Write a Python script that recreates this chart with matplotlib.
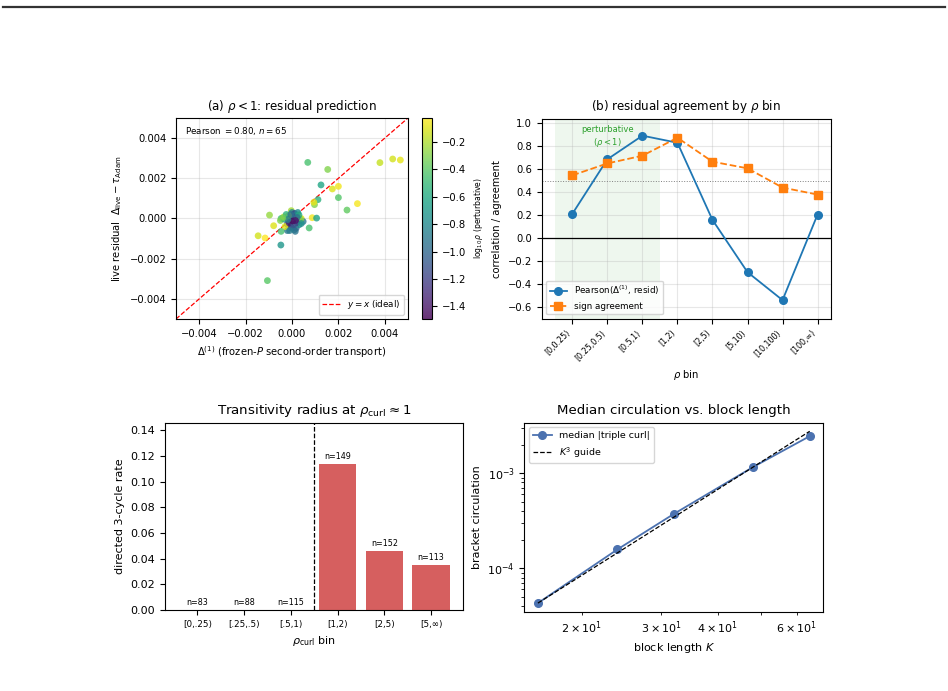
import numpy as np
import matplotlib
matplotlib.use('Agg')
import matplotlib.pyplot as plt
from matplotlib.lines import Line2D

### data ###
# (a) residual prediction scatter, rho < 1
delta1 = [0.00068, 0.00154, 0.00379, 0.00434, 0.00467, 0.00125, 0.00174, 0.00200,
          0.00200, 0.00112, 0.00097, 0.00094, 0.00237, 0.00282, 0.00087, 0.00106,
          0.00074, -0.00097, -0.00079, -0.00146, -0.00116, -0.00048, -0.00106,
          -0.00047, -0.00050, -0.00033, -0.00003, 0.00000, 0.00010, 0.00017, 0.00025,
          0.00040, 0.00048, 0.00033, -0.00013, -0.00020, -0.00005, 0.00000, 0.00010,
          -0.00020, 0.00018, -0.00030, -0.00047, 0.00037, 0.00031, 0.00014, -0.00010,
          0.00005, -0.00008, 0.00012, 0.00025, -0.00015, -0.00035, 0.00020, -0.00012,
          0.00008, 0.00030, -0.00025, 0.00003, 0.00022, -0.00018, 0.00040, -0.00040,
          0.00015, -0.00005]
resid = [0.00279, 0.00244, 0.00278, 0.00296, 0.00291, 0.00167, 0.00147, 0.00160,
         0.00104, 0.00094, 0.00069, 0.00081, 0.00042, 0.00074, 0.00004, 0.00002,
         -0.00047, 0.00017, -0.00036, -0.00086, -0.00097, -0.00132, -0.00309,
         0.00000, -0.00010, -0.00003, 0.00039, 0.00030, 0.00022, 0.00015, 0.00010,
         0.00000, -0.00015, -0.00008, -0.00015, -0.00028, -0.00040, -0.00048, -0.00056,
         -0.00060, -0.00048, -0.00040, -0.00064, -0.00003, -0.00031, -0.00064, -0.00060,
         0.00010, 0.00005, 0.00025, 0.00030, 0.00015, 0.00008, -0.00020, -0.00022,
         -0.00030, 0.00018, 0.00020, -0.00012, 0.00005, -0.00005, -0.00025, 0.00003,
         -0.00010, 0.00020]
log_rho = [-0.45, -0.30, -0.15, -0.12, -0.08, -0.62, -0.10, -0.05,
           -0.42, -0.55, -0.30, -0.08, -0.38, -0.04, -0.05, -0.65,
           -0.45, -0.25, -0.10, -0.12, -0.02, -0.72, -0.40,
           -0.50, -0.30, -0.62, -0.22, -0.85, -1.30, -0.70, -0.10,
           -0.08, -0.90, -0.70, -0.12, -1.15, -1.49, -1.05, -0.95,
           -0.90, -1.00, -0.10, -0.45, -0.25, -0.78, -0.92, -0.88,
           -1.20, -1.00, -1.10, -0.80, -0.15, -0.08, -1.25, -1.35,
           -1.10, -0.60, -0.55, -1.45, -0.95, -0.85, -0.75, -0.35,
           -1.40, -0.95]

# (b) agreement by rho bin
rho_bins = ['[0,0.25)', '[0.25,0.5)', '[0.5,1)', '[1,2)', '[2,5)', '[5,10)', '[10,100)', '[100,\u221e)']
pearson = [0.21, 0.686, 0.892, 0.83, 0.157, -0.299, -0.543, 0.204]
sign_agree = [0.546, 0.65, 0.717, 0.874, 0.665, 0.607, 0.439, 0.378]

# (c) transitivity
curl_bins = ['[0,.25)', '[.25,.5)', '[.5,1)', '[1,2)', '[2,5)', '[5,\u221e)']
cycle_rate = [0.0, 0.0, 0.0, 0.114, 0.046, 0.035]
bin_n = [83, 88, 115, 149, 152, 113]

# (d) circulation vs block length
block_K = [16, 24, 32, 48, 64]
median_curl = [4.31e-5, 1.58e-4, 3.73e-4, 1.165e-3, 2.45e-3]

W, H = 948, 691
def rect(l, t, r, b):
    return [l / W, 1 - b / H, (r - l) / W, (b - t) / H]

fig = plt.figure(figsize=(9.48, 6.91), dpi=100)
fig.add_artist(Line2D([3 / W, 945 / W], [1 - 6.5 / H, 1 - 6.5 / H], color='#333333', lw=1.6))

fs_small = 7.2
fs_title = 8.6

############ (a) ############
ax = fig.add_axes(rect(176, 118, 408, 319))
cax = fig.add_axes(rect(421.5, 117.5, 432, 318.5))
sc = ax.scatter(delta1, resid, c=log_rho, cmap='viridis', s=24, alpha=0.8, edgecolors='none', zorder=3)
lim = 0.005
ax.plot([-lim, lim], [-lim, lim], 'r--', lw=0.9, label='$y=x$ (ideal)', zorder=2)
ax.set_xlim(-lim, lim)
ax.set_ylim(-lim, lim)
ax.grid(True, alpha=0.3)
ax.tick_params(labelsize=fs_small)
ax.set_title(r'(a) $\rho<1$: residual prediction', fontsize=fs_title)
ax.set_xlabel(r'$\Delta^{(1)}$ (frozen-$P$ second-order transport)', fontsize=fs_small)
ax.set_ylabel(r'live residual  $\Delta_{\rm live}-\tau_{\rm Adam}$', fontsize=fs_small)
ax.text(0.04, 0.965, r'Pearson $=0.80$, $n=65$', transform=ax.transAxes, fontsize=6.3, va='top')
ax.legend(loc='lower right', fontsize=6.3)
cb = fig.colorbar(sc, cax=cax)
cb.ax.tick_params(labelsize=fs_small)
cb.set_label(r'$\log_{10}\rho$ (perturbative)', fontsize=5.5)

############ (b) ############
ax = fig.add_axes(rect(541.7, 118.7, 830.7, 318.7))
xb = np.arange(len(rho_bins))
ax.axvspan(-0.5, 2.5, color='tab:green', alpha=0.08, lw=0)
ax.text(1, 0.88, 'perturbative\n' + r'($\rho<1$)', color='tab:green', fontsize=6, ha='center', va='center')
ax.axhline(0, color='k', lw=0.9)
ax.axhline(0.5, color='gray', ls=':', lw=0.7)
ax.plot(xb, pearson, 'o-', color='tab:blue', lw=1.3, ms=5.5, label=r'Pearson($\Delta^{(1)}$, resid)')
ax.plot(xb, sign_agree, 's--', color='tab:orange', lw=1.3, ms=5.5, label='sign agreement')
ax.set_xticks(xb)
ax.set_xticklabels(rho_bins, rotation=45, ha='right', fontsize=5.8)
ax.set_ylim(-0.705, 1.04)
ax.grid(True, alpha=0.3)
ax.tick_params(axis='y', labelsize=fs_small)
ax.set_title(r'(b) residual agreement by $\rho$ bin', fontsize=fs_title)
ax.set_xlabel(r'$\rho$ bin', fontsize=fs_small)
ax.set_ylabel('correlation / agreement', fontsize=fs_small)
ax.legend(loc='lower left', fontsize=6.3)

############ (c) ############
ax = fig.add_axes(rect(165, 422.7, 463.3, 610))
xc = np.arange(len(curl_bins))
ax.bar(xc, cycle_rate, color='#d65f5f', width=0.8)
for i in range(len(xc)):
    ax.text(xc[i], cycle_rate[i] + 0.0025, 'n=%d' % bin_n[i], ha='center', va='bottom', fontsize=5.8)
ax.axvline(2.5, color='k', ls='--', lw=0.9)
ax.set_xticks(xc)
ax.set_xticklabels(curl_bins, fontsize=6.3)
ax.set_ylim(0, 0.146)
ax.tick_params(axis='y', labelsize=8)
ax.set_title(r'Transitivity radius at $\rho_{\rm curl}\approx 1$', fontsize=9.6)
ax.set_xlabel(r'$\rho_{\rm curl}$ bin', fontsize=8)
ax.set_ylabel('directed 3-cycle rate', fontsize=8)

############ (d) ############
ax = fig.add_axes(rect(524.3, 422.7, 823.3, 611.7))
K = np.array(block_K, dtype=float)
guide = median_curl[0] * (K / K[0]) ** 3
ax.loglog(K, median_curl, 'o-', color='#4c72b0', ms=5.5, lw=1.3, label='median |triple curl|')
ax.loglog(K, guide, 'k--', lw=0.9, label='$K^3$ guide')
ax.tick_params(labelsize=8)
ax.tick_params(axis='x', which='minor', labelsize=8)
ax.set_title('Median circulation vs. block length', fontsize=9.6)
ax.set_xlabel('block length $K$', fontsize=8)
ax.set_ylabel('bracket circulation', fontsize=8)
ax.legend(loc='upper left', fontsize=6.8)

plt.savefig('out.png', dpi=100)
